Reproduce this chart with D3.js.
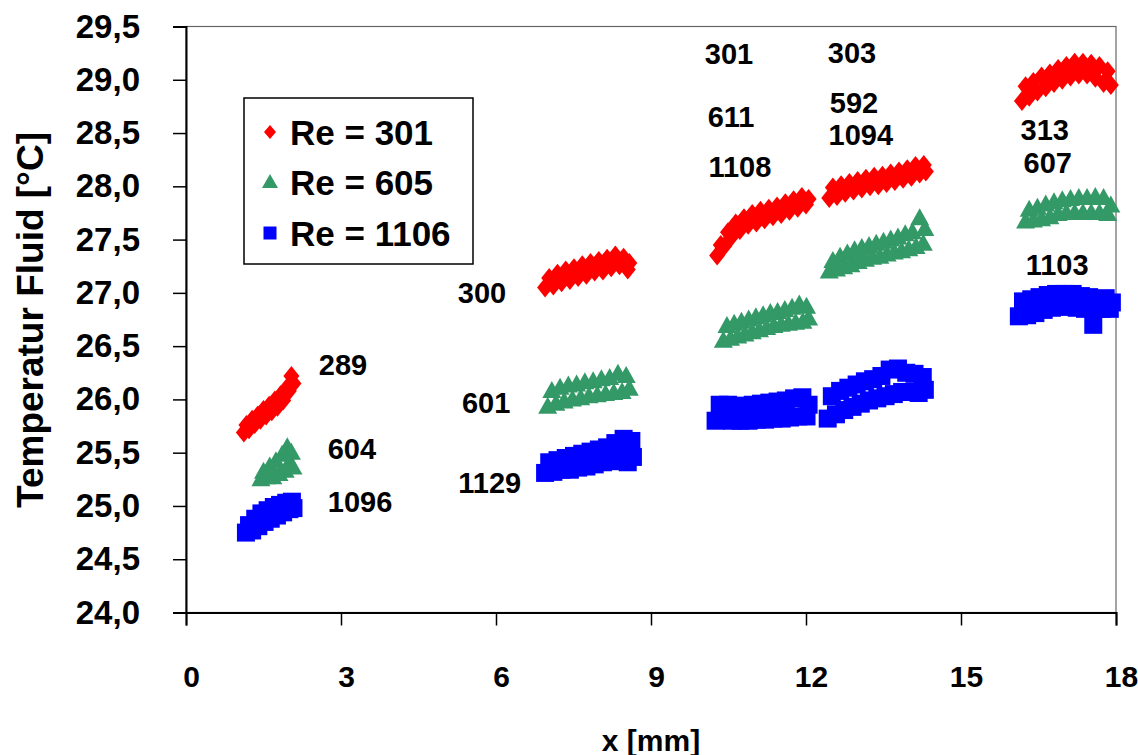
<!DOCTYPE html>
<html>
<head>
<meta charset="utf-8">
<script src="https://cdn.jsdelivr.net/npm/d3@7"></script>
<style>
  html, body { margin: 0; padding: 0; background: #fff; }
  svg text { font-family: Arial, "Liberation Sans", Helvetica, sans-serif; font-weight: bold; fill: #000; }
</style>
</head>
<body>
<svg id="chart" width="1138" height="755"></svg>
<script>
// Fluid temperature along the channel for three Reynolds numbers
const xTicks = [0, 3, 6, 9, 12, 15, 18];
const yTicks = [24.0, 24.5, 25.0, 25.5, 26.0, 26.5, 27.0, 27.5, 28.0, 28.5, 29.0, 29.5];

const seriesNames = ["Re = 301", "Re = 605", "Re = 1106"];
const seriesColors = ["#ff0000", "#339966", "#0000ff"];

// Re = 301 (x in mm, temperature in °C)
const re301 = [
  [1.12,25.69],[1.17,25.76],[1.22,25.72],[1.28,25.81],[1.33,25.77],[1.39,25.85],[1.44,25.81],[1.50,25.90],[1.55,25.85],[1.61,25.94],
  [1.66,25.89],[1.72,25.99],[1.77,25.93],[1.83,26.04],[1.88,25.99],[1.94,26.10],[1.99,26.08],[2.04,26.22],[2.08,26.15],
  [6.95,27.05],[7.03,27.14],[7.11,27.07],[7.19,27.18],[7.27,27.10],[7.35,27.21],[7.43,27.12],[7.51,27.23],[7.59,27.15],[7.67,27.26],
  [7.75,27.17],[7.83,27.28],[7.91,27.20],[7.99,27.30],[8.07,27.21],[8.15,27.32],[8.23,27.24],[8.31,27.35],[8.39,27.26],[8.47,27.33],
  [8.55,27.22],[8.58,27.28],
  [10.28,27.35],[10.35,27.45],[10.42,27.44],[10.49,27.57],[10.56,27.53],[10.64,27.65],[10.72,27.59],[10.80,27.70],[10.88,27.64],
  [10.96,27.74],[11.04,27.66],[11.12,27.77],[11.20,27.69],[11.28,27.79],[11.36,27.72],[11.44,27.81],[11.52,27.74],[11.60,27.84],
  [11.68,27.77],[11.76,27.87],[11.84,27.80],[11.92,27.90],[12.00,27.83],[12.05,27.88],
  [12.45,27.89],[12.52,27.99],[12.60,27.91],[12.68,28.01],[12.76,27.94],[12.84,28.03],[12.92,27.96],[13.00,28.05],[13.08,27.98],
  [13.16,28.07],[13.24,28.00],[13.32,28.09],[13.40,28.01],[13.48,28.10],[13.56,28.03],[13.64,28.12],[13.72,28.05],[13.80,28.14],
  [13.88,28.07],[13.96,28.16],[14.04,28.09],[14.12,28.19],[14.20,28.12],[14.28,28.20],[14.32,28.14],
  [16.18,28.80],[16.25,28.94],[16.32,28.84],[16.40,28.98],[16.48,28.89],[16.56,29.03],[16.64,28.93],[16.72,29.06],[16.80,28.97],
  [16.88,29.10],[16.96,29.00],[17.04,29.13],[17.12,29.03],[17.20,29.16],[17.28,29.05],[17.36,29.16],[17.44,29.05],[17.52,29.15],
  [17.60,29.02],[17.68,29.13],[17.76,28.97],[17.84,29.08],[17.90,28.95]
];

// Re = 605
const re605 = [
  [1.45,25.25],[1.50,25.32],[1.56,25.27],[1.62,25.37],[1.68,25.27],[1.74,25.42],[1.80,25.30],[1.86,25.48],[1.92,25.33],[1.96,25.55],
  [2.00,25.40],[2.04,25.50],[2.07,25.36],
  [7.00,25.93],[7.08,26.08],[7.16,25.96],[7.24,26.11],[7.32,25.98],[7.40,26.13],[7.48,26.00],[7.56,26.14],[7.64,26.01],[7.72,26.16],
  [7.80,26.03],[7.88,26.17],[7.96,26.04],[8.04,26.19],[8.12,26.05],[8.20,26.20],[8.28,26.06],[8.36,26.24],[8.44,26.07],[8.52,26.22],
  [8.58,26.10],
  [10.40,26.55],[10.47,26.69],[10.54,26.57],[10.61,26.71],[10.68,26.59],[10.75,26.73],[10.82,26.61],[10.89,26.75],[10.96,26.63],
  [11.03,26.77],[11.10,26.65],[11.17,26.79],[11.24,26.67],[11.31,26.81],[11.38,26.69],[11.45,26.82],[11.52,26.70],[11.59,26.84],
  [11.66,26.71],[11.73,26.86],[11.80,26.72],[11.87,26.89],[11.94,26.73],[12.01,26.87],[12.05,26.76],
  [12.45,27.20],[12.52,27.30],[12.59,27.22],[12.66,27.34],[12.73,27.24],[12.80,27.37],[12.87,27.26],[12.94,27.40],[13.01,27.29],
  [13.08,27.42],[13.15,27.31],[13.22,27.44],[13.29,27.33],[13.36,27.46],[13.43,27.34],[13.50,27.48],[13.57,27.36],[13.64,27.50],
  [13.71,27.38],[13.78,27.52],[13.85,27.39],[13.92,27.55],[13.99,27.41],[14.06,27.57],[14.13,27.43],[14.20,27.70],[14.27,27.46],
  [14.30,27.60],
  [16.25,27.67],[16.32,27.78],[16.40,27.68],[16.48,27.80],[16.56,27.69],[16.64,27.83],[16.72,27.71],[16.80,27.85],[16.88,27.74],
  [16.96,27.87],[17.04,27.75],[17.12,27.88],[17.20,27.75],[17.28,27.89],[17.36,27.75],[17.44,27.89],[17.52,27.75],[17.60,27.90],
  [17.68,27.75],[17.76,27.89],[17.84,27.74],[17.90,27.82]
];

// Re = 1106
const re1106 = [
  [1.16,24.75],[1.22,24.82],[1.28,24.77],[1.34,24.88],[1.40,24.81],[1.46,24.93],[1.52,24.85],[1.58,24.96],[1.64,24.88],[1.70,24.99],
  [1.76,24.91],[1.82,25.01],[1.88,24.94],[1.94,25.03],[2.00,24.97],[2.05,25.04],[2.08,24.98],
  [6.95,25.31],[7.03,25.41],[7.11,25.32],[7.19,25.43],[7.27,25.34],[7.35,25.45],[7.43,25.34],[7.51,25.47],[7.59,25.36],[7.67,25.49],
  [7.75,25.37],[7.83,25.51],[7.91,25.39],[7.99,25.53],[8.07,25.41],[8.15,25.55],[8.23,25.42],[8.31,25.59],[8.39,25.44],[8.47,25.63],
  [8.55,25.41],[8.62,25.61],[8.65,25.46],
  [10.25,25.80],[10.33,25.95],[10.41,25.81],[10.49,25.95],[10.57,25.80],[10.65,25.94],[10.73,25.80],[10.81,25.94],[10.89,25.80],
  [10.97,25.95],[11.05,25.81],[11.13,25.96],[11.21,25.81],[11.29,25.97],[11.37,25.82],[11.45,25.98],[11.53,25.82],[11.61,25.99],
  [11.69,25.83],[11.77,26.01],[11.85,25.84],[11.93,26.02],[12.01,25.84],[12.05,25.95],
  [12.42,25.82],[12.50,26.03],[12.58,25.86],[12.66,26.08],[12.74,25.90],[12.82,26.11],[12.90,25.93],[12.98,26.14],[13.06,25.96],
  [13.14,26.17],[13.22,25.99],[13.30,26.19],[13.38,26.01],[13.46,26.22],[13.54,26.03],[13.62,26.28],[13.70,26.05],[13.78,26.29],
  [13.86,26.07],[13.94,26.25],[14.02,26.07],[14.10,26.24],[14.18,26.06],[14.26,26.21],[14.30,26.09],
  [16.12,26.78],[16.20,26.92],[16.28,26.79],[16.36,26.94],[16.44,26.81],[16.52,26.96],[16.60,26.84],[16.68,26.98],[16.76,26.86],
  [16.84,26.99],[16.92,26.87],[17.00,26.99],[17.08,26.87],[17.16,26.99],[17.24,26.86],[17.32,26.97],[17.40,26.85],[17.48,26.96],
  [17.56,26.70],[17.64,26.94],[17.72,26.85],[17.80,26.95],[17.88,26.85],[17.92,26.91]
];

// Local Reynolds numbers written next to each measuring section
const noteTexts = ["289", "604", "1096", "300", "601", "1129", "301", "611", "1108", "303", "592", "1094", "313", "607", "1103"];
const noteX     = [3.04, 3.21, 3.37, 5.73, 5.81, 5.88, 10.51, 10.55, 10.72, 12.89, 12.93, 13.06, 16.62, 16.68, 16.86];
const noteY     = [26.32, 25.53, 25.04, 27.00, 25.97, 25.22, 29.24, 28.65, 28.18, 29.25, 28.78, 28.48, 28.53, 28.22, 27.26];

const svg = d3.select("#chart");
svg.append("rect").attr("width", 1138).attr("height", 755).attr("fill", "#fff");

const x = d3.scaleLinear().domain([0, 18]).range([186, 1116]);
const y = d3.scaleLinear().domain([24, 29.5]).range([612.5, 26.5]);

// plot area frame
svg.append("rect")
  .attr("x", x(0)).attr("y", y(29.5))
  .attr("width", x(18) - x(0)).attr("height", y(24) - y(29.5))
  .attr("fill", "none").attr("stroke", "#666").attr("stroke-width", 1.2);

const fmt = d => d3.format(".1f")(d).replace(".", ",");

const yAxis = svg.append("g")
  .attr("transform", `translate(${x(0)},0)`)
  .call(d3.axisLeft(y).tickValues(yTicks).tickFormat(fmt).tickSize(13).tickPadding(33));
yAxis.selectAll("text").style("font-size", "33px");

const xAxis = svg.append("g")
  .attr("transform", `translate(0,${y(24)})`)
  .call(d3.axisBottom(x).tickValues(xTicks).tickFormat(d3.format("d")).tickSize(13).tickPadding(40));
xAxis.selectAll("text").style("font-size", "30px").attr("dx", 5);

[yAxis, xAxis].forEach(g => {
  g.select(".domain").attr("stroke", "#000").attr("stroke-width", 2);
  g.selectAll(".tick line").attr("stroke", "#000").attr("stroke-width", 1.5);
});

// marker shapes
const shapes = [
  "M0,-10L8,0L0,10L-8,0Z",
  "M0,-10L9.5,7L-9.5,7Z",
  "M-9,-9h18v18h-18Z"
];
const legendShapes = [
  "M0,-7L6,0L0,7L-6,0Z",
  "M0,-8L8,6L-8,6Z",
  "M-6.5,-6.5h13v13h-13Z"
];
const allSeries = [re301, re605, re1106];

allSeries.forEach((data, i) => {
  svg.append("g").selectAll("path")
    .data(data)
    .join("path")
    .attr("d", shapes[i])
    .attr("transform", d => `translate(${x(d[0])},${y(d[1])})`)
    .attr("fill", seriesColors[i]);
});

// annotations
svg.append("g").selectAll("text")
  .data(noteTexts)
  .join("text")
  .attr("x", (d, i) => x(noteX[i]))
  .attr("y", (d, i) => y(noteY[i]))
  .attr("text-anchor", "middle")
  .attr("dominant-baseline", "central")
  .style("font-size", "29px")
  .text(d => d);

// legend
const legend = svg.append("g");
legend.append("rect")
  .attr("x", 244).attr("y", 98).attr("width", 229).attr("height", 166)
  .attr("fill", "#fff").attr("stroke", "#000").attr("stroke-width", 1.5);
const legendRows = [132, 182, 233];
seriesNames.forEach((name, i) => {
  legend.append("path")
    .attr("d", legendShapes[i])
    .attr("transform", `translate(270,${legendRows[i]})`)
    .attr("fill", seriesColors[i]);
  legend.append("text")
    .attr("x", 290).attr("y", legendRows[i])
    .attr("dominant-baseline", "central")
    .style("font-size", "35px")
    .text(name);
});

// axis titles
svg.append("text")
  .attr("x", (x(0) + x(18)) / 2).attr("y", 740)
  .attr("text-anchor", "middle").attr("dominant-baseline", "central")
  .style("font-size", "30px")
  .text("x [mm]");

svg.append("text")
  .attr("transform", "translate(30,320) rotate(-90)")
  .attr("text-anchor", "middle").attr("dominant-baseline", "central")
  .style("font-size", "37px")
  .text("Temperatur Fluid [°C]");
</script>
</body>
</html>
